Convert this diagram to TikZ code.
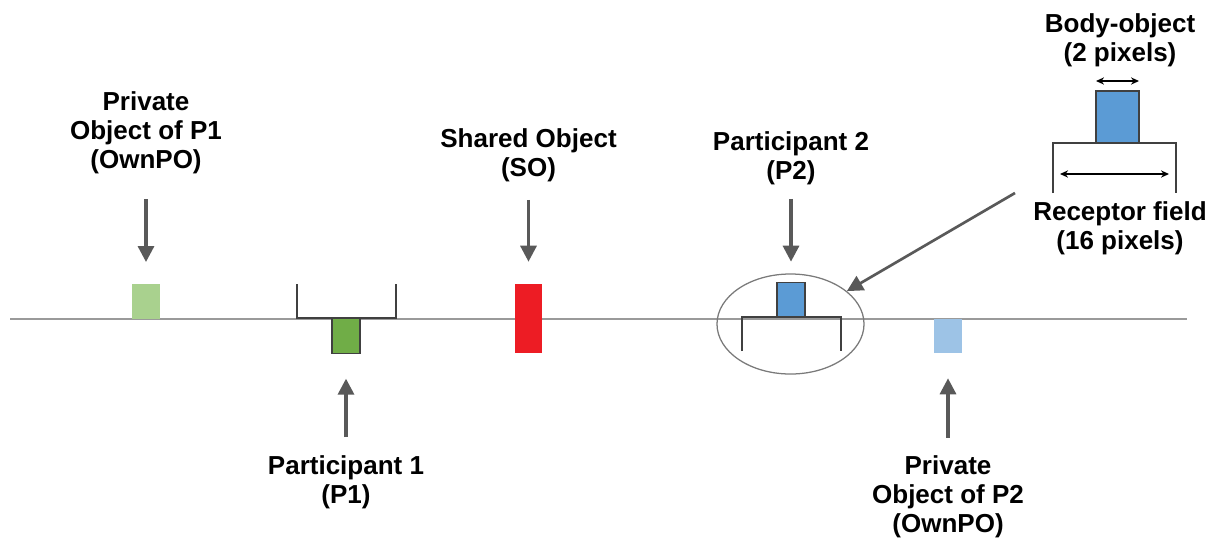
\documentclass[tikz,border=0pt]{standalone}
\usepackage{fontspec}
\setmainfont{Liberation Sans}
\usetikzlibrary{positioning,shapes.geometric,arrows.meta}

\definecolor{linegray}{HTML}{9A9A9A}
\definecolor{arrgray}{HTML}{595959}
\definecolor{ringgray}{HTML}{7A7A7A}
\definecolor{edgegray}{HTML}{404040}
\definecolor{lightgreen}{HTML}{A9D18E}
\definecolor{darkgreen}{HTML}{70AD47}
\definecolor{sored}{HTML}{ED1C24}
\definecolor{bodyblue}{HTML}{5B9BD5}
\definecolor{lightblue}{HTML}{9DC3E6}

\tikzset{
  lbl/.style={align=center, inner sep=0pt, font=\fontsize{18.5}{20.6}\selectfont\bfseries},
  obj/.style={rectangle, inner sep=0pt, minimum width=0.7cm, minimum height=0.86cm},
  arr/.style={draw=arrgray, line width=2.3pt, -{Triangle[width=0.4cm,length=0.4cm]}},
  dbl/.style={draw=black, line width=0.9pt, {Stealth[length=0.2cm,width=0.18cm]}-{Stealth[length=0.2cm,width=0.18cm]}},
  field/.style={draw=edgegray, line width=0.9pt}
}

\begin{document}
\begin{tikzpicture}[x=0.025cm,y=-0.025cm]
\useasboundingbox (0,0) rectangle (1215,555);

% ======================================
% THE BASELINE
% ======================================
\coordinate (lstart) at (10,319);
\coordinate (lend) at (1187,319);
\draw[linegray, line width=1.1pt] (lstart) -- (lend);

% ======================================
% PRIVATE OBJECT OF P1
% ======================================
\node[obj, fill=lightgreen] (ownpoa) at (146,301.5) {};
\node[lbl] (ownpoalbl) at (146,133) {Private\\Object of P1\\(OwnPO)};
\draw[arr, shorten <=0.62cm, shorten >=0.55cm] (ownpoalbl.south) -- (ownpoa.north);

% ======================================
% PARTICIPANT 1
% ======================================
\node[obj, fill=darkgreen, draw=edgegray, line width=0.9pt] (bodya) at (346,336) {};
\coordinate (fielda1) at (297,284);
\coordinate (fielda2) at (297,318);
\coordinate (fielda3) at (396,318);
\coordinate (fielda4) at (396,284);
\draw[field] (fielda1) -- (fielda2) -- (fielda3) -- (fielda4);
\node[lbl] (p1lbl) at (346,482) {Participant 1\\(P1)};
\draw[arr, shorten <=0.45cm, shorten >=0.62cm] (p1lbl.north) -- (bodya.south);

% ======================================
% SHARED OBJECT
% ======================================
\node[obj, fill=sored, minimum width=0.675cm, minimum height=1.725cm] (so) at (528.5,318.5) {};
\node[lbl] (solbl) at (528.5,155) {Shared Object\\(SO)};
\draw[arr, shorten <=0.45cm, shorten >=0.55cm] (solbl.south) -- (so.north);

% ======================================
% PARTICIPANT 2
% ======================================
\node[ellipse, draw=ringgray, line width=0.9pt, minimum width=3.675cm, minimum height=2.5cm] (p2zone) at (790.5,324) {};
\node[obj, fill=bodyblue, draw=edgegray, line width=0.9pt] (bodyb) at (791,299.5) {};
\coordinate (fieldb1) at (742,351);
\coordinate (fieldb2) at (742,317);
\coordinate (fieldb3) at (841,317);
\coordinate (fieldb4) at (841,351);
\draw[field] (fieldb1) -- (fieldb2) -- (fieldb3) -- (fieldb4);
\node[lbl] (p2lbl) at (791,158) {Participant 2\\(P2)};
\draw[arr, shorten <=0.35cm, shorten >=0.5cm] (p2lbl.south) -- (bodyb.north);

% ======================================
% PRIVATE OBJECT OF P2
% ======================================
\node[obj, fill=lightblue] (ownpob) at (948,336) {};
\node[lbl] (ownpoblbl) at (948,497) {Private\\Object of P2\\(OwnPO)};
\draw[arr, shorten <=0.45cm, shorten >=0.62cm] (ownpoblbl.north) -- (ownpob.south);

% ======================================
% INSET: BODY-OBJECT AND RECEPTOR FIELD
% ======================================
\node[rectangle, inner sep=0pt, minimum width=1.075cm, minimum height=1.3cm, fill=bodyblue, draw=edgegray, line width=0.9pt] (bodyc) at (1117.5,117) {};
\coordinate (fieldc1) at (1053,193);
\coordinate (fieldc2) at (1053,143);
\coordinate (fieldc3) at (1176,143);
\coordinate (fieldc4) at (1176,193);
\draw[field] (fieldc1) -- (fieldc2) -- (fieldc3) -- (fieldc4);
\coordinate (rfleft) at (1060,174);
\coordinate (rfright) at (1169,174);
\draw[dbl] (rfleft) -- (rfright);
\coordinate (boleft) at (1096,81);
\coordinate (boright) at (1139,81);
\draw[dbl] (boleft) -- (boright);
\node[lbl] (bolbl) at (1120,40) {Body-object\\(2 pixels)};
\node[lbl] (rflbl) at (1120,228) {Receptor field\\(16 pixels)};
\coordinate (rfstart) at (1015,193);
\draw[arr, line width=1.9pt] (rfstart) -- (p2zone);

\end{tikzpicture}
\end{document}
